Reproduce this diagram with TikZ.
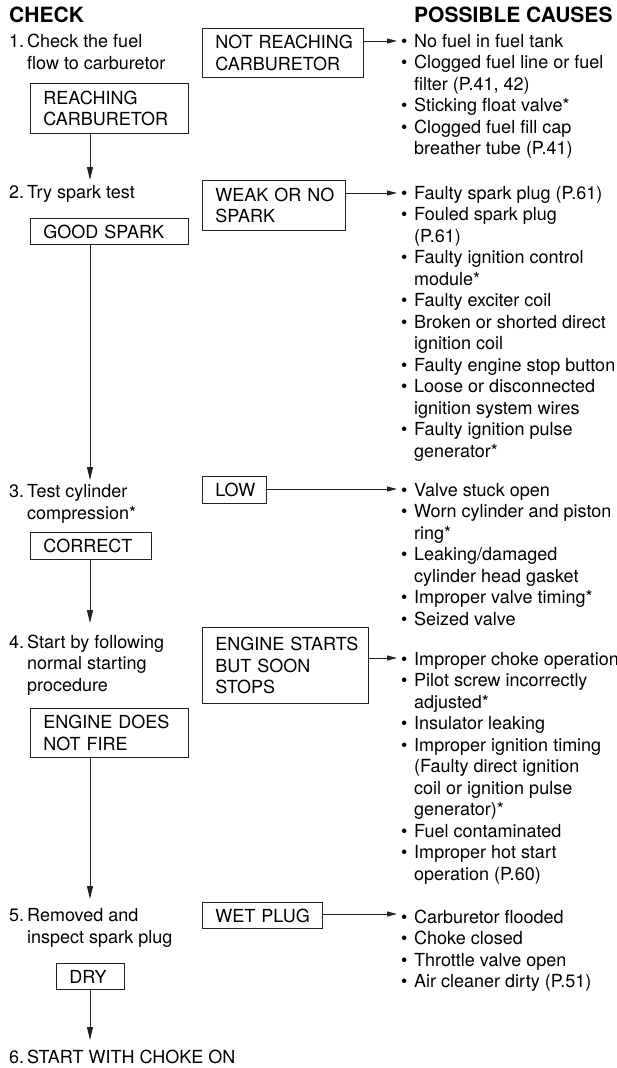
\documentclass[tikz,border=0pt]{standalone}
\usepackage{fontspec}
\setmainfont{TeX Gyre Heros}
\usepackage{tikz}
\usetikzlibrary{arrows.meta,positioning}
\definecolor{tline}{HTML}{222222}
\newcommand{\bul}{\makebox[13pt][l]{\textbullet}}
\newcommand{\bulgap}{\hspace*{13pt}}
\newcommand{\stno}[1]{\makebox[18pt][l]{#1}}
\newcommand{\stgap}{\hspace*{18pt}}
\tikzset{
  tbody/.style={font=\fontsize{18pt}{21.5pt}\selectfont},
  thead/.style={font=\fontsize{21pt}{24pt}\selectfont\bfseries, inner sep=0pt, anchor=base west},
  tstep/.style={tbody, inner sep=0pt, anchor=base west, align=left},
  tcause/.style={tbody, inner sep=0pt, anchor=base west, align=left},
  tbox/.style={tbody, draw=tline, line width=0.9pt, anchor=north west, align=left,
               inner xsep=13pt, inner ysep=0pt,
               execute at begin node={\hyphenpenalty=10000}},
  tarrv/.style={draw=tline, line width=0.9pt, -{Triangle[length=13pt,width=6pt]}},
  tarrh/.style={draw=tline, line width=0.9pt, -{Triangle[length=10pt,width=5pt]}},
}
\begin{document}
\begin{tikzpicture}[x=1pt,y=-1pt]
  \useasboundingbox (0,0) rectangle (617,1068);

  % cabecalhos
  \node[thead] (hcheck) at (9,23) {CHECK};
  \node[thead] (hcause) at (414,23) {POSSIBLE CAUSES};

  % passos (base = ultima linha)
  \node[tstep] (s1) at (9,69) {\stno{1.}Check the fuel\\\stgap flow to carburetor};
  \node[tstep] (s2) at (9,198) {\stno{2.}Try spark test};
  \node[tstep] (s3) at (9,519) {\stno{3.}Test cylinder\\\stgap compression*};
  \node[tstep] (s4) at (9,691) {\stno{4.}Start by following\\\stgap normal starting\\\stgap procedure};
  \node[tstep] (s5) at (9,943) {\stno{5.}Removed and\\\stgap inspect spark plug};
  \node[tstep] (s6) at (9,1063) {\stno{6.}START WITH CHOKE ON};

  % caixas de resultado
  \node[tbox, text width=135pt, minimum height=49pt] (nreach) at (202,28) {NOT~REACHING\\CARBURETOR};
  \node[tbox, text width=132pt, minimum height=50pt] (reach)  at (30,83)  {REACHING\\CARBURETOR};
  \node[tbox, text width=117pt, minimum height=50pt] (weak)   at (202,180) {WEAK~OR~NO\\SPARK};
  \node[tbox, text width=132pt, minimum height=26pt] (good)   at (30,218) {GOOD~SPARK};
  \node[tbox, text width=38pt,  minimum height=27pt] (low)    at (202,476) {LOW};
  \node[tbox, text width=95pt,  minimum height=27pt] (corr)   at (30,532) {CORRECT};
  \node[tbox, text width=140pt, minimum height=76pt] (stops)  at (202,627) {ENGINE~STARTS\\BUT~SOON\\STOPS};
  \node[tbox, text width=132pt, minimum height=49pt] (nofire) at (30,708) {ENGINE~DOES\\NOT~FIRE};
  \node[tbox, text width=94pt,  minimum height=26pt] (wet)    at (202,902) {WET~PLUG};
  \node[tbox, text width=42pt,  minimum height=26pt] (dry)    at (56,963) {DRY};

  % causas (base = ultima linha)
  \node[tcause] (c1) at (401,154.5) {\bul No fuel in fuel tank\\
    \bul Clogged fuel line or fuel\\\bulgap filter (P.41, 42)\\
    \bul Sticking float valve*\\
    \bul Clogged fuel fill cap\\\bulgap breather tube (P.41)};
  \node[tcause] (c2) at (401,457) {\bul Faulty spark plug (P.61)\\
    \bul Fouled spark plug\\\bulgap (P.61)\\
    \bul Faulty ignition control\\\bulgap module*\\
    \bul Faulty exciter coil\\
    \bul Broken or shorted direct\\\bulgap ignition coil\\
    \bul Faulty engine stop button\\
    \bul Loose or disconnected\\\bulgap ignition system wires\\
    \bul Faulty ignition pulse\\\bulgap generator*};
  \node[tcause] (c3) at (401,625) {\bul Valve stuck open\\
    \bul Worn cylinder and piston\\\bulgap ring*\\
    \bul Leaking/damaged\\\bulgap cylinder head gasket\\
    \bul Improper valve timing*\\
    \bul Seized valve};
  \node[tcause] (c4) at (401,880) {\bul Improper choke operation\\
    \bul Pilot screw incorrectly\\\bulgap adjusted*\\
    \bul Insulator leaking\\
    \bul Improper ignition timing\\\bulgap (Faulty direct ignition\\\bulgap coil or ignition pulse\\\bulgap generator)*\\
    \bul Fuel contaminated\\
    \bul Improper hot start\\\bulgap operation (P.60)};
  \node[tcause] (c5) at (401,987.5) {\bul Carburetor flooded\\
    \bul Choke closed\\
    \bul Throttle valve open\\
    \bul Air cleaner dirty (P.51)};

  % setas verticais
  \coordinate (v1) at (90,180);
  \coordinate (v2) at (90,480);
  \coordinate (v3) at (90,623);
  \coordinate (v4) at (90,899);
  \coordinate (v5) at (90,1040);
  \draw[tarrv] (reach.south -| v1) -- (v1);
  \draw[tarrv] (good.south -| v2) -- (v2);
  \draw[tarrv] (corr.south -| v3) -- (v3);
  \draw[tarrv] (nofire.south -| v4) -- (v4);
  \draw[tarrv] (dry.south -| v5) -- (v5);

  % setas para as causas
  \coordinate (h1) at (397,41);
  \coordinate (h2) at (397,193);
  \coordinate (h3) at (397,489);
  \coordinate (h4) at (397,658);
  \coordinate (h5) at (397,914);
  \draw[tarrh] (nreach.east |- h1) -- (h1);
  \draw[tarrh] (weak.east |- h2) -- (h2);
  \draw[tarrh] (low.east |- h3) -- (h3);
  \draw[tarrh] (stops.east |- h4) -- (h4);
  \draw[tarrh] (wet.east |- h5) -- (h5);

\end{tikzpicture}
\end{document}
